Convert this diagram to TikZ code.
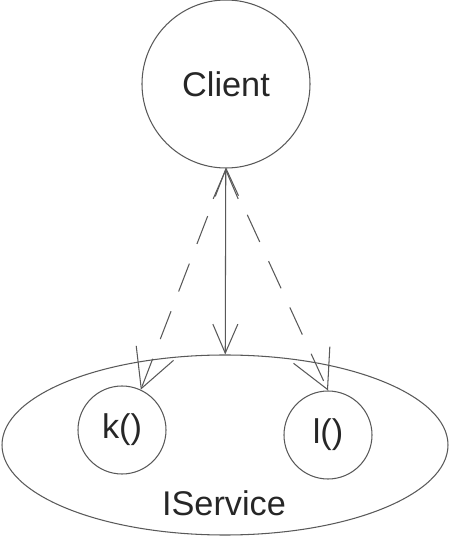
\documentclass[tikz,border=0pt]{standalone}
\usepackage{fontspec}
\setmainfont{Liberation Sans}
\usetikzlibrary{arrows.meta,shapes.geometric}

\begin{document}
\begin{tikzpicture}[auto, >={Straight Barb[length=0.58cm,width=0.5cm]},
  line width=0.6pt,
  every node/.style={font=\fontsize{19.5}{23}\selectfont, text=black!85},
  actor/.style={circle, draw=black!65, minimum size=3.36cm, inner sep=0pt},
  method/.style={circle, draw=black!65, minimum size=1.76cm, inner sep=0pt},
  iface/.style={ellipse, draw=black!65, minimum width=8.92cm, minimum height=3.6cm, inner sep=0pt},
  call/.style={draw=black!65, dash pattern=on 17pt off 12pt,
    -{Straight Barb[length=0.76cm,width=0.8cm]}}]

  \useasboundingbox (0,0) rectangle (9,10.76);

  % Define coordinates for nodes
  \node[actor] (Client) at (4.52,9.08) {Client};
  \node[iface] (IService) at (4.5,1.86) {};
  \node (name) at (4.48,0.70) {IService};
  \node[method] (k) at (2.44,2.16) {k()};
  \node[method] (l) at (6.56,2.06) {l()};

  % Draw arrows between nodes
  \draw[<->, draw=black!65] (Client) -- (IService);
  \draw[call] (Client.south) -- (k.65);
  \draw[call] (Client.south) -- (l.north);
\end{tikzpicture}
\end{document}
